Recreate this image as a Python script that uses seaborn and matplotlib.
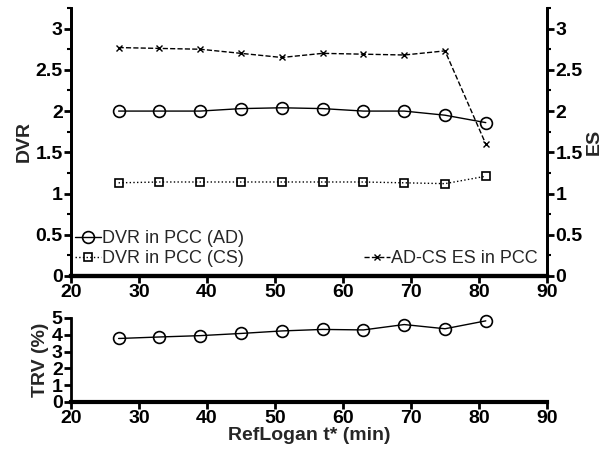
import numpy as np
import pandas as pd
import matplotlib
matplotlib.use("Agg")
import matplotlib.pyplot as plt
import seaborn as sns
from matplotlib.ticker import MultipleLocator

# data
t_star = [27, 33, 39, 45, 51, 57, 63, 69, 75, 81]
dvr_ad = [2.00, 2.00, 2.00, 2.03, 2.04, 2.03, 2.00, 2.00, 1.95, 1.86]
dvr_cs = [1.13, 1.14, 1.14, 1.14, 1.14, 1.14, 1.14, 1.13, 1.12, 1.21]
es_adcs = [2.77, 2.76, 2.75, 2.70, 2.65, 2.70, 2.69, 2.68, 2.73, 1.60]
trv = [3.78, 3.87, 3.95, 4.08, 4.23, 4.32, 4.29, 4.61, 4.36, 4.83]

sns.set_style("ticks")
plt.rcParams['font.family'] = ['Liberation Sans', 'DejaVu Sans']

fig = plt.figure(figsize=(6.03, 4.53), dpi=100)
W, H = 603, 453
ax = fig.add_axes([71 / W, 1 - 276 / H, (547 - 71) / W, (276 - 8) / H])
ax2 = ax.twinx()
axb = fig.add_axes([71 / W, 1 - 402 / H, (547 - 71) / W, (402 - 318) / H])

sns.lineplot(x=t_star, y=dvr_ad, ax=ax, color='black', lw=1, marker='o', ms=8.5,
             markerfacecolor='none', markeredgecolor='black', mew=1.2,
             label='DVR in PCC (AD)', legend=False, clip_on=False)
sns.lineplot(x=t_star, y=dvr_cs, ax=ax, color='black', lw=1, linestyle=':', marker='s', ms=6,
             markerfacecolor='none', markeredgecolor='black', mew=1.2,
             label='DVR in PCC (CS)', legend=False, clip_on=False)
sns.lineplot(x=t_star, y=es_adcs, ax=ax2, color='black', lw=1, linestyle='--', marker='x', ms=5,
             markeredgecolor='black', mew=1,
             label='AD-CS ES in PCC', legend=False, clip_on=False)
sns.lineplot(x=t_star, y=trv, ax=axb, color='black', lw=1, marker='o', ms=8.5,
             markerfacecolor='none', markeredgecolor='black', mew=1.2, clip_on=False)

bold = dict(fontsize=14, fontweight='bold')
for a in (ax, ax2):
    a.set_xlim(20, 90)
    a.set_ylim(0, 3.25)
    a.yaxis.set_minor_locator(MultipleLocator(0.25))
    a.set_yticks([0, 0.5, 1, 1.5, 2, 2.5, 3])
    a.set_yticklabels(['0', '0.5', '1', '1.5', '2', '2.5', '3'], **bold)
    a.tick_params(which='major', length=5, width=2, pad=1, colors='black')
    a.tick_params(which='minor', length=3, width=1.5, colors='black')
    a.spines['top'].set_visible(False)
    for s in a.spines.values():
        s.set_color('black')
        s.set_linewidth(2)
    a.spines['bottom'].set_linewidth(3)
ax.set_xticks(range(20, 91, 10))
ax.set_xticklabels([str(v) for v in range(20, 91, 10)], **bold)
ax.set_ylabel('DVR', labelpad=2, **bold)
ax2.set_ylabel('ES', labelpad=2, **bold)
ax.set_xlabel('')

axb.set_xlim(20, 90)
axb.set_ylim(0, 5)
axb.set_xticks(range(20, 91, 10))
axb.set_xticklabels([str(v) for v in range(20, 91, 10)], **bold)
axb.set_yticks(range(0, 6))
axb.set_yticklabels([str(v) for v in range(0, 6)], **bold)
axb.tick_params(which='major', length=5, width=2, pad=1, colors='black')
sns.despine(ax=axb)
for s in axb.spines.values():
    s.set_color('black')
    s.set_linewidth(2)
axb.spines['bottom'].set_linewidth(3)
axb.set_ylabel('TRV (%)', labelpad=2, **bold)
axb.set_xlabel('RefLogan t* (min)', labelpad=0, **bold)

h1, l1 = ax.get_legend_handles_labels()
ax.legend(h1, l1, loc='lower left', bbox_to_anchor=(-0.01, 0.0), frameon=False,
          fontsize=13, handlelength=1.4, handletextpad=0.1, borderaxespad=0.1,
          labelspacing=0.15)
h2, l2 = ax2.get_legend_handles_labels()
ax2.legend(h2, l2, loc='lower right', bbox_to_anchor=(1.0, 0.0), frameon=False,
           fontsize=13, handlelength=1.4, handletextpad=0.1, borderaxespad=0.1)

fig.savefig('out.png', dpi=100)
